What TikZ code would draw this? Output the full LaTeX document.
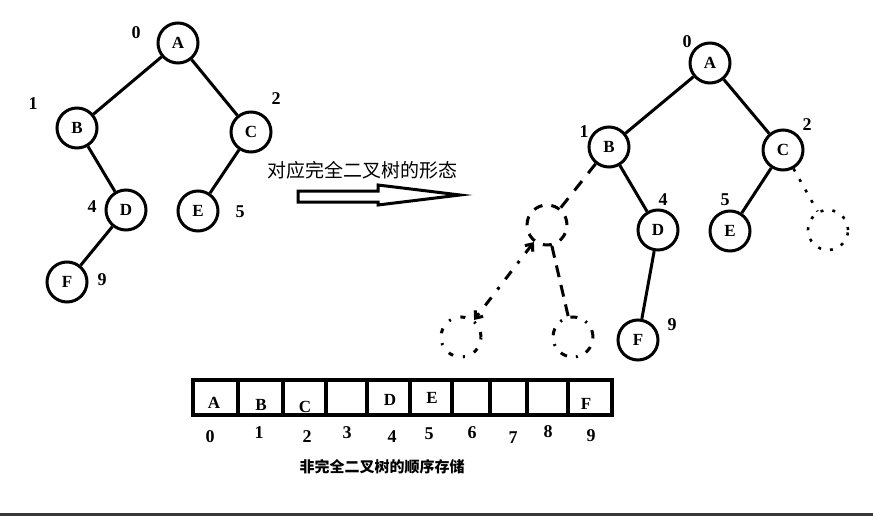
\documentclass[tikz,border=0pt]{standalone}
\usepackage{fontspec}
\setmainfont{Liberation Serif}
\newfontfamily\cjk{Noto Sans CJK SC}
\usetikzlibrary{arrows.meta}
\begin{document}
\begin{tikzpicture}[x=1pt,y=-1pt,
  tnode/.style={circle,draw,line width=3pt,minimum size=40pt,inner sep=0pt,font=\fontsize{17}{17}\selectfont\bfseries},
  ghost/.style={circle,draw,line width=3pt,minimum size=40pt,inner sep=0pt},
  idx/.style={inner sep=0pt,font=\fontsize{18}{18}\selectfont\bfseries},
  edge/.style={line width=3pt},
  cell/.style={inner sep=0pt,font=\fontsize{17}{17}\selectfont\bfseries}]
\useasboundingbox (0,0) rectangle (873,516);
\fill[white] (0,0) rectangle (873,516);
% left tree
\node[tnode] (LA) at (178,43) {A};
\node[tnode] (LB) at (77,128) {B};
\node[tnode] (LC) at (251,132) {C};
\node[tnode] (LD) at (126,210) {D};
\node[tnode] (LE) at (198,211) {E};
\node[tnode] (LF) at (67,282) {F};
\draw[edge] (LA) -- (LB);
\draw[edge] (LA) -- (LC);
\draw[edge] (LB) -- (LD);
\draw[edge] (LC) -- (LE);
\draw[edge] (LD) -- (LF);
\node[idx] (l0) at (136,33) {0};
\node[idx] (l1) at (33,104) {1};
\node[idx] (l2) at (276,99) {2};
\node[idx] (l4) at (92,207) {4};
\node[idx] (l5) at (240,212) {5};
\node[idx] (l9) at (102,280) {9};
% arrow
\node[inner sep=0pt,font=\cjk\fontsize{19}{19}\selectfont] (cap1) at (362,170) {对应完全二叉树的形态};
\draw[line width=3pt,line join=miter] (298,191) -- (378,191) -- (378,185) -- (460,195) -- (378,205) -- (378,202) -- (298,202) -- cycle;
% right tree
\node[tnode] (RA) at (710,63) {A};
\node[tnode] (RB) at (609,147) {B};
\node[tnode] (RC) at (783,150) {C};
\node[tnode] (RD) at (658,230) {D};
\node[tnode] (RE) at (730,231) {E};
\node[tnode] (RF) at (638,340) {F};
\node[ghost,dash pattern=on 9pt off 9pt] (R3) at (547,225) {};
\node[ghost,dash pattern=on 5pt off 10pt on 2pt off 10pt] (R7) at (461,337) {};
\node[ghost,dash pattern=on 7pt off 9pt on 2pt off 9pt] (R8) at (573,337) {};
\node[ghost,line width=2.6pt,dash pattern=on 3pt off 9pt] (R6) at (828,230) {};
\draw[edge] (RA) -- (RB);
\draw[edge] (RA) -- (RC);
\draw[edge] (RB) -- (RD);
\draw[edge] (RC) -- (RE);
\draw[edge] (RD) -- (RF);
\draw[edge,dash pattern=on 12pt off 10pt] (RB) -- (R3);
\draw[edge,dash pattern=on 10pt off 10pt on 3pt off 10pt,{Straight Barb[length=6pt,width=10pt]}-{Straight Barb[length=6pt,width=10pt]}] (R3) -- (R7);
\draw[edge,dash pattern=on 12pt off 8pt] (R3) -- (R8);
\draw[edge,line width=2.6pt,dash pattern=on 3pt off 9pt] (RC) -- (R6);
\node[idx] (r0) at (687,42) {0};
\node[idx] (r1) at (584,132) {1};
\node[idx] (r2) at (807,125) {2};
\node[idx] (r4) at (663,200) {4};
\node[idx] (r5) at (725,200) {5};
\node[idx] (r9) at (672,325) {9};
% array
\draw[line width=3.5pt] (193,380) rectangle (612,415);
\foreach \x in {238,283,326,367,410,452,490,527,568}
  \draw[line width=3.5pt] (\x,380) -- (\x,415);
\node[cell] (cA) at (214,403) {A};
\node[cell] (cB) at (261,405) {B};
\node[cell] (cC) at (305,407) {C};
\node[cell] (cD) at (390,400) {D};
\node[cell] (cE) at (432,398) {E};
\node[cell] (cF) at (586,404) {F};
\foreach \i/\x/\y in {0/210/437,1/259/433,2/307/437,3/347/433,4/392/437,5/429/434,6/472/433,7/513/438,8/548/432,9/591/436}
  \node[idx] (n\i) at (\x,\y) {\i};
\node[inner sep=0pt,font=\cjk\fontsize{15}{15}\selectfont\bfseries] (cap2) at (382,467) {非完全二叉树的顺序存储};
% bottom strip
\fill[black!78] (0,513) rectangle (873,516);
\end{tikzpicture}
\end{document}
